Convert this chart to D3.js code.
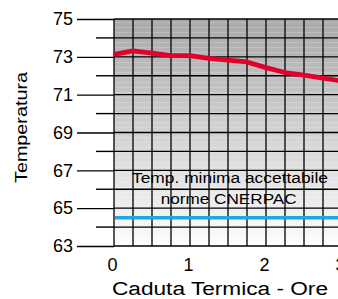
<!DOCTYPE html>
<html>
<head>
<meta charset="utf-8">
<script src="https://cdn.jsdelivr.net/npm/d3@7"></script>
<style>
  html, body { margin: 0; padding: 0; background: #fff; }
  text { font-family: "Liberation Sans", Arial, sans-serif; fill: #000; }
</style>
</head>
<body>
<div id="chart"></div>
<script>
// data
var hours = [0, 0.25, 0.5, 0.75, 1, 1.25, 1.5, 1.75, 2, 2.25, 2.5, 2.75, 3];
var temps = [73.13, 73.31, 73.2, 73.06, 73.06, 72.92, 72.83, 72.73, 72.43, 72.17, 72.03, 71.88, 71.72];
var minTemp = 64.5;
var xTicks = [0, 1, 2, 3];
var yTicks = [63, 65, 67, 69, 71, 73, 75];
var yMinorTicks = [64, 66, 68, 70, 72, 74];
var noteLines = ["Temp. minima accettabile", "norme CNERPAC"];

var W = 338, H = 299;
var plotLeft = 114, plotTop = 19, plotBottom = 246;

var x = d3.scaleLinear().domain([0, 1]).range([plotLeft, plotLeft + 76]);
var y = d3.scaleLinear().domain([63, 75]).range([plotBottom, plotTop]);
var xMax = 3.5;

var svg = d3.select("#chart").append("svg").attr("width", W).attr("height", H);

var defs = svg.append("defs");
var grad = defs.append("linearGradient").attr("id", "bg")
    .attr("x1", 0).attr("y1", 0).attr("x2", 0).attr("y2", 1);
grad.append("stop").attr("offset", "0%").attr("stop-color", "#a9a9a9");
grad.append("stop").attr("offset", "50%").attr("stop-color", "#d2d2d2");
grad.append("stop").attr("offset", "100%").attr("stop-color", "#fdfdfd");

var pat = defs.append("pattern").attr("id", "stripes")
    .attr("patternUnits", "userSpaceOnUse").attr("width", 8).attr("height", 5);
pat.append("rect").attr("y", 2).attr("width", 8).attr("height", 1)
    .style("fill", "#fff").style("fill-opacity", 0.18);

svg.append("rect")
    .attr("x", x(0)).attr("y", y(75))
    .attr("width", x(xMax) - x(0)).attr("height", y(63) - y(75))
    .style("fill", "url(#bg)");
svg.append("rect")
    .attr("x", x(0)).attr("y", y(75))
    .attr("width", x(xMax) - x(0)).attr("height", y(63) - y(75))
    .style("fill", "url(#stripes)");

// grid
svg.append("g").selectAll("line").data(d3.range(0, xMax + 0.01, 0.25)).enter().append("line")
    .attr("x1", function (d) { return x(d); }).attr("x2", function (d) { return x(d); })
    .attr("y1", y(75)).attr("y2", y(63))
    .style("stroke", "#111").style("stroke-width", 1.4);

svg.append("g").selectAll("line").data(d3.range(63, 75.01, 1)).enter().append("line")
    .attr("x1", x(0)).attr("x2", x(xMax))
    .attr("y1", function (d) { return y(d); }).attr("y2", function (d) { return y(d); })
    .style("stroke", "#000").style("stroke-width", 1.4);

// y axis
var yAxis = svg.append("g").attr("transform", "translate(" + plotLeft + ",0)")
    .call(d3.axisLeft(y).tickValues(yTicks).tickSize(37).tickPadding(4).tickFormat(d3.format("d")));
yAxis.select(".domain").remove();
yAxis.selectAll("line").style("stroke", "#000").style("stroke-width", 1.4);
yAxis.selectAll("text").style("font-size", "18px").attr("fill", "#000")
    .style("font-family", "'Liberation Sans', Arial, sans-serif");

svg.append("g").selectAll("line").data(yMinorTicks).enter().append("line")
    .attr("x1", plotLeft - 18).attr("x2", plotLeft)
    .attr("y1", function (d) { return y(d); }).attr("y2", function (d) { return y(d); })
    .style("stroke", "#000").style("stroke-width", 1.4);

// x axis
var xAxis = svg.append("g").attr("transform", "translate(-2," + plotBottom + ")")
    .call(d3.axisBottom(x).tickValues(xTicks).tickSize(0).tickPadding(12).tickFormat(d3.format("d")));
xAxis.select(".domain").remove();
xAxis.selectAll("text").style("font-size", "18px").attr("fill", "#000")
    .style("font-family", "'Liberation Sans', Arial, sans-serif");

// minimum line
svg.append("line")
    .attr("x1", x(0) + 1).attr("x2", x(xMax))
    .attr("y1", y(minTemp)).attr("y2", y(minTemp))
    .style("stroke", "#1ea6e6").style("stroke-width", 3.5);

// note
svg.append("text").attr("x", 230).attr("y", 183)
    .attr("text-anchor", "middle").style("font-size", "14px")
    .attr("textLength", 196).attr("lengthAdjust", "spacingAndGlyphs")
    .text(noteLines[0]);
svg.append("text").attr("x", 228.7).attr("y", 204)
    .attr("text-anchor", "middle").style("font-size", "14px")
    .attr("textLength", 136).attr("lengthAdjust", "spacingAndGlyphs")
    .text(noteLines[1]);

// temperature line
var line = d3.line()
    .x(function (d, i) { return x(hours[i]); })
    .y(function (d) { return y(d); });
svg.append("path").datum(temps)
    .attr("d", line)
    .style("fill", "none").style("stroke", "#e2002a").style("stroke-width", 4.8)
    .style("stroke-linejoin", "round");

// axis titles
svg.append("text").attr("x", 220).attr("y", 295)
    .attr("text-anchor", "middle").style("font-size", "18px")
    .attr("textLength", 216).attr("lengthAdjust", "spacingAndGlyphs")
    .text("Caduta Termica - Ore");
svg.append("text").attr("transform", "translate(27,127.5) rotate(-90)")
    .attr("text-anchor", "middle").style("font-size", "16px")
    .attr("textLength", 111).attr("lengthAdjust", "spacingAndGlyphs")
    .text("Temperatura");
</script>
</body>
</html>
